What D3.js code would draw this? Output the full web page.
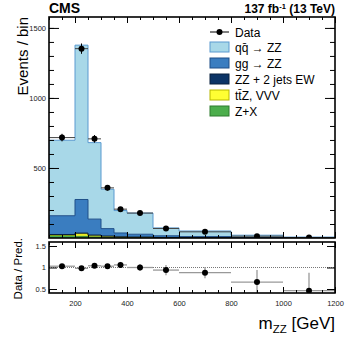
<!DOCTYPE html>
<html>
<head>
<meta charset="utf-8">
<script src="https://cdnjs.cloudflare.com/ajax/libs/d3/7.8.5/d3.min.js"></script>
<style>
  body { margin: 0; background: #fff; }
  svg { font-family: "Liberation Sans", Arial, sans-serif; }
</style>
</head>
<body>
<svg id="chart" width="349" height="338"></svg>
<script>
// bin edges in m_ZZ [GeV]
const edges = [100, 200, 250, 300, 350, 400, 500, 600, 800, 1000, 1200];
const centers = [150, 225, 275, 325, 375, 450, 550, 700, 900, 1100];

// stacked predictions (events / bin), bottom to top
const zx  = [18, 12, 8, 5, 3, 2, 1, 0.5, 0.2, 0.1];
const ttz = [3, 18, 8, 5, 3, 2, 1, 0.7, 0.3, 0.1];
const ew  = [4, 5, 5, 4, 3, 3, 2, 1.8, 1, 0.5];
const gg  = [134, 240, 114, 53, 27, 20, 12, 7, 2.5, 1];
const qq  = [539, 1102, 546, 281, 160, 151, 56, 40, 16, 5];

// data
const dataVals = [717, 1352, 708, 358, 206, 178, 68, 44, 13, 3];
const dataErr  = [27, 37, 27, 19, 14, 13, 8, 7, 4, 2];
const ratio    = [1.03, 0.98, 1.04, 1.03, 1.06, 1.0, 0.94, 0.88, 0.66, 0.46];
const ratioErr = [0.04, 0.03, 0.04, 0.05, 0.07, 0.08, 0.12, 0.13, 0.28, 0.42];

const yTicks = [500, 1000, 1500];
const rTicks = [0.5, 1, 1.5];
const xTicks = [200, 400, 600, 800, 1000, 1200];

const keys = ["zx", "ttz", "ew", "gg", "qq"];
const fills   = {qq: "#a8d8e8", gg: "#3a7dc0", ew: "#0c3466", ttz: "#ffff33", zx: "#4cae4c"};
const strokes = {qq: "#5a9ad0", gg: "#1f4f88", ew: "#08203f", ttz: "#b8b800", zx: "#2e7d2e"};
const legendItems = [
  {k: "qq", label: "qq\u0304 \u2192 ZZ"},
  {k: "gg", label: "gg \u2192 ZZ"},
  {k: "ew", label: "ZZ + 2 jets EW"},
  {k: "ttz", label: "tt\u0304Z, VVV"},
  {k: "zx", label: "Z+X"}
];

const svg = d3.select("#chart");
const X0 = 49, X1 = 335;
const mainTop = 17, mainBot = 238;
const rTop = 242, rBot = 293;

const x = d3.scaleLinear().domain([100, 1200]).range([X0, X1]);
const y = d3.scaleLinear().domain([0, 1578]).range([mainBot, mainTop]);
const yr = d3.scaleLinear().domain([0.407, 1.593]).range([rBot, rTop]);

// stack table
const rows = centers.map((c, i) => ({i: i, zx: zx[i], ttz: ttz[i], ew: ew[i], gg: gg[i], qq: qq[i]}));
const series = d3.stack().keys(keys)(rows);

svg.append("clipPath").attr("id", "clipMain").append("rect")
  .attr("x", X0).attr("y", mainTop).attr("width", X1 - X0).attr("height", mainBot - mainTop);
svg.append("clipPath").attr("id", "clipRatio").append("rect")
  .attr("x", X0).attr("y", rTop).attr("width", X1 - X0).attr("height", rBot - rTop);

const gMain = svg.append("g").attr("clip-path", "url(#clipMain)");

series.forEach(s => {
  const k = s.key;
  gMain.selectAll(null).data(s).enter().append("rect")
    .attr("x", d => x(edges[d.data.i]))
    .attr("width", d => x(edges[d.data.i + 1]) - x(edges[d.data.i]))
    .attr("y", d => y(d[1]))
    .attr("height", d => y(d[0]) - y(d[1]))
    .attr("fill", fills[k]);
});
// step outlines
series.forEach(s => {
  const k = s.key;
  const pts = [[edges[0], 0]];
  s.forEach(d => {
    pts.push([edges[d.data.i], d[1]]);
    pts.push([edges[d.data.i + 1], d[1]]);
  });
  pts.push([edges[edges.length - 1], 0]);
  gMain.append("path")
    .attr("d", d3.line().x(p => x(p[0])).y(p => y(p[1]))(pts))
    .attr("fill", "none").attr("stroke", strokes[k]).attr("stroke-width", 1);
});

// data in main panel
centers.forEach((c, i) => {
  gMain.append("line")
    .attr("x1", x(edges[i])).attr("x2", x(edges[i + 1]))
    .attr("y1", y(dataVals[i])).attr("y2", y(dataVals[i]))
    .attr("stroke", "#444").attr("stroke-width", 1);
  gMain.append("line")
    .attr("x1", x(c)).attr("x2", x(c))
    .attr("y1", y(dataVals[i] - dataErr[i])).attr("y2", y(dataVals[i] + dataErr[i]))
    .attr("stroke", "#000").attr("stroke-width", 1);
});
gMain.selectAll(null).data(centers).enter().append("circle")
  .attr("cx", d => x(d)).attr("cy", (d, i) => y(dataVals[i])).attr("r", 3).attr("fill", "#000");

// ratio panel
const gR = svg.append("g").attr("clip-path", "url(#clipRatio)");
gR.append("line")
  .attr("x1", X0).attr("x2", X1).attr("y1", yr(1)).attr("y2", yr(1))
  .attr("stroke", "#777").attr("stroke-width", 1.2).attr("stroke-dasharray", "1,1");
centers.forEach((c, i) => {
  gR.append("line")
    .attr("x1", x(edges[i])).attr("x2", x(edges[i + 1]))
    .attr("y1", yr(ratio[i])).attr("y2", yr(ratio[i]))
    .attr("stroke", "#999").attr("stroke-width", 1.3);
  gR.append("line")
    .attr("x1", x(c)).attr("x2", x(c))
    .attr("y1", yr(ratio[i] - ratioErr[i])).attr("y2", yr(ratio[i] + ratioErr[i]))
    .attr("stroke", "#999").attr("stroke-width", 1.3);
});
gR.selectAll(null).data(centers).enter().append("circle")
  .attr("cx", d => x(d)).attr("cy", (d, i) => yr(ratio[i])).attr("r", 3).attr("fill", "#000");

// axes helper
function styleAxis(g) {
  g.select(".domain").remove();
  g.selectAll("line").attr("stroke", "#000").attr("stroke-width", 1);
  g.selectAll("text").attr("fill", "#222").style("font-size", "7.5px");
}
const xMinor = d3.range(100, 1201, 50);

function xAxes(top, bot) {
  svg.append("g").attr("transform", `translate(0,${bot})`)
    .call(d3.axisBottom(x).tickValues(xMinor).tickFormat("").tickSizeInner(-3).tickSizeOuter(0)).call(styleAxis);
  svg.append("g").attr("transform", `translate(0,${bot})`)
    .call(d3.axisBottom(x).tickValues(xTicks).tickFormat("").tickSizeInner(-6).tickSizeOuter(0)).call(styleAxis);
  svg.append("g").attr("transform", `translate(0,${top})`)
    .call(d3.axisTop(x).tickValues(xMinor).tickFormat("").tickSizeInner(-3).tickSizeOuter(0)).call(styleAxis);
  svg.append("g").attr("transform", `translate(0,${top})`)
    .call(d3.axisTop(x).tickValues(xTicks).tickFormat("").tickSizeInner(-6).tickSizeOuter(0)).call(styleAxis);
}
xAxes(mainTop, mainBot);
xAxes(rTop, rBot);

// x labels under ratio
svg.append("g").attr("transform", `translate(0,${rBot})`)
  .call(d3.axisBottom(x).tickValues(xTicks).tickFormat(d3.format("d")).tickSize(0).tickPadding(8)).call(styleAxis);

// main y axes
const yMinor = d3.range(100, 1578, 100);
svg.append("g").attr("transform", `translate(${X0},0)`)
  .call(d3.axisLeft(y).tickValues(yMinor).tickFormat("").tickSizeInner(-5).tickSizeOuter(0)).call(styleAxis);
svg.append("g").attr("transform", `translate(${X0},0)`)
  .call(d3.axisLeft(y).tickValues(yTicks).tickFormat(d3.format("d")).tickSizeInner(-10).tickSizeOuter(0).tickPadding(3)).call(styleAxis);
svg.append("g").attr("transform", `translate(${X1},0)`)
  .call(d3.axisRight(y).tickValues(yMinor).tickFormat("").tickSizeInner(-5).tickSizeOuter(0)).call(styleAxis);
svg.append("g").attr("transform", `translate(${X1},0)`)
  .call(d3.axisRight(y).tickValues(yTicks).tickFormat("").tickSizeInner(-10).tickSizeOuter(0)).call(styleAxis);

// ratio y axes
svg.append("g").attr("transform", `translate(${X0},0)`)
  .call(d3.axisLeft(yr).tickValues(rTicks).tickFormat(d3.format("")).tickSizeInner(-8).tickSizeOuter(0).tickPadding(3)).call(styleAxis);
svg.append("g").attr("transform", `translate(${X1},0)`)
  .call(d3.axisRight(yr).tickValues(rTicks).tickFormat("").tickSizeInner(-8).tickSizeOuter(0)).call(styleAxis);

// frames
svg.append("rect").attr("x", X0).attr("y", mainTop).attr("width", X1 - X0).attr("height", mainBot - mainTop)
  .attr("fill", "none").attr("stroke", "#000").attr("stroke-width", 1.6);
svg.append("rect").attr("x", X0).attr("y", rTop).attr("width", X1 - X0).attr("height", rBot - rTop)
  .attr("fill", "none").attr("stroke", "#000").attr("stroke-width", 1.6);

// titles
svg.append("text").attr("x", X0).attr("y", 13).text("CMS")
  .style("font-size", "14px").style("font-weight", "bold");
const lumi = svg.append("text").attr("x", X1).attr("y", 13).attr("text-anchor", "end")
  .style("font-size", "12px").style("font-weight", "bold");
lumi.append("tspan").text("137 fb");
lumi.append("tspan").text("-1").attr("dy", -4).style("font-size", "7.5px");
lumi.append("tspan").text(" (13 TeV)").attr("dy", 4);

svg.append("text").attr("transform", "translate(28,17) rotate(-90)").attr("text-anchor", "end")
  .style("font-size", "15px").text("Events / bin");
svg.append("text").attr("transform", "translate(22,238) rotate(-90)").attr("text-anchor", "end")
  .style("font-size", "11.5px").text("Data / Pred.");

const xt = svg.append("text").attr("x", X1).attr("y", 329).attr("text-anchor", "end").style("font-size", "17px");
xt.append("tspan").text("m");
xt.append("tspan").text("ZZ").attr("dy", 4).style("font-size", "11.5px");
xt.append("tspan").text(" [GeV]").attr("dy", -4);

// legend
const lg = svg.append("g");
lg.append("line").attr("x1", 210).attr("x2", 229).attr("y1", 32).attr("y2", 32).attr("stroke", "#000");
lg.append("circle").attr("cx", 219.5).attr("cy", 32).attr("r", 3).attr("fill", "#000");
lg.append("text").attr("x", 235).attr("y", 36.5).style("font-size", "12px").text("Data");
legendItems.forEach((it, j) => {
  const yy = 42 + j * 16;
  lg.append("rect").attr("x", 210).attr("y", yy).attr("width", 19).attr("height", 10)
    .attr("fill", fills[it.k]).attr("stroke", strokes[it.k]).attr("stroke-width", 1);
  lg.append("text").attr("x", 235).attr("y", yy + 9.5).style("font-size", "12px").text(it.label);
});
</script>
</body>
</html>
